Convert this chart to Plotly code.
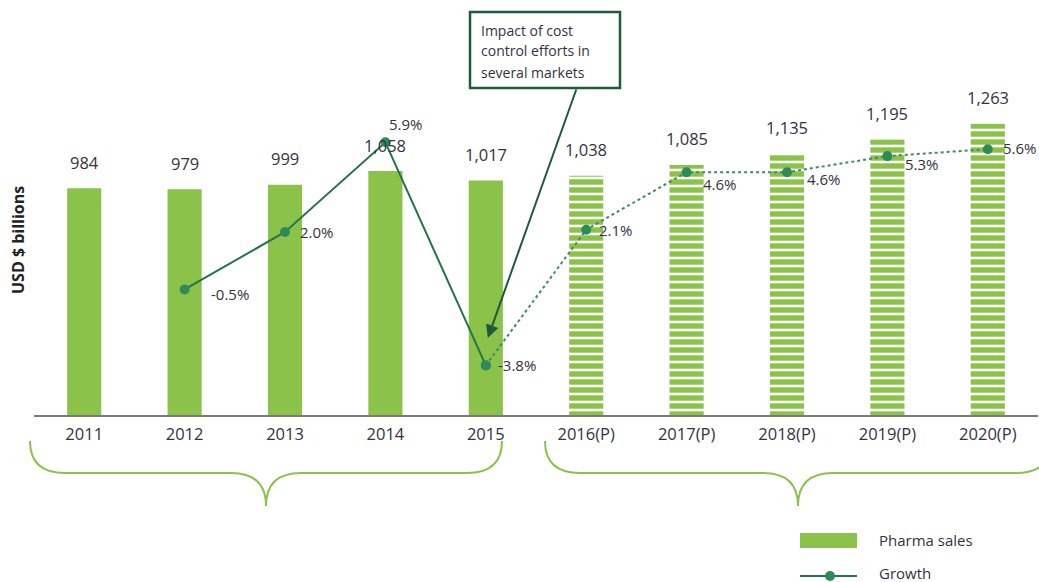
import plotly.graph_objects as go

# ---------------- data ----------------
years = ["2011", "2012", "2013", "2014", "2015",
         "2016(P)", "2017(P)", "2018(P)", "2019(P)", "2020(P)"]
sales = [984, 979, 999, 1058, 1017, 1038, 1085, 1135, 1195, 1263]
growth = [None, -0.5, 2.0, 5.9, -3.8, 2.1, 4.6, 4.6, 5.3, 5.6]
n_actual = 5  # 2011-2015 actual, the rest projected
callout_lines = ["Impact of cost", "control efforts in", "several markets"]

# ---------------- style ----------------
GREEN = "#8BC34A"
DARK = "#23744A"
MARK = "#2E8B57"
TXT = "#333340"
FONT = "Open Sans"

# label offsets (pixels) for growth labels
GL_OFF = {"2012": (24, -5), "2013": (13, 0), "2014": (2, 18), "2015": (10, 0),
          "2016(P)": (11, 0), "2017(P)": (14, -12), "2018(P)": (18, -7),
          "2019(P)": (16, -8), "2020(P)": (13, 1)}

# plot area in pixels
L, T, W, H = 34, 10, 1004, 405
def px(x):
    return (x - L) / W
def py(y):
    return (T + H - y) / H

fig = go.Figure()

fig.add_trace(go.Bar(
    x=years[:n_actual], y=sales[:n_actual], name="Pharma sales",
    marker=dict(color=GREEN, line=dict(width=0)), width=0.34, showlegend=False))
fig.add_trace(go.Bar(
    x=years[n_actual:], y=sales[n_actual:], name="Pharma sales (P)",
    marker=dict(color="white", line=dict(width=0),
                pattern=dict(shape="-", fgcolor=GREEN, bgcolor="white", fgopacity=1,
                             size=8, solidity=0.68, fillmode="replace")),
    width=0.34, showlegend=False))

fig.add_trace(go.Scatter(
    x=years[1:n_actual], y=growth[1:n_actual], yaxis="y2", mode="lines+markers",
    line=dict(color=DARK, width=2), marker=dict(color=MARK, size=10),
    name="Growth", showlegend=False))
fig.add_trace(go.Scatter(
    x=years[n_actual - 1:], y=growth[n_actual - 1:], yaxis="y2", mode="lines+markers",
    line=dict(color="#3D8C63", width=2, dash="dot"), marker=dict(color=MARK, size=10),
    name="Growth (P)", showlegend=False))

ann = []
# bar value labels (x given as category index)
for i, v in enumerate(sales):
    ann.append(dict(x=i, y=v, xref="x", yref="y", text=f"{v:,}", showarrow=False,
                    yanchor="middle", yshift=26, font=dict(size=16.5, color=TXT, family=FONT)))
# growth labels
for i, (yr, g) in enumerate(zip(years, growth)):
    if g is None:
        continue
    dx, dy = GL_OFF.get(yr, (12, 0))
    ann.append(dict(x=i, y=g, xref="x", yref="y2", text=f"{g:.1f}%", showarrow=False,
                    xanchor="left", yanchor="middle", xshift=dx, yshift=dy,
                    font=dict(size=15, color=TXT, family=FONT)))

# y-axis title
ann.append(dict(x=px(18), y=py(240), xref="paper", yref="paper", text="<b>USD $ billions</b>",
                textangle=-90, showarrow=False, xanchor="center", yanchor="middle",
                font=dict(size=16, color="#222", family=FONT)))

# callout box text
for k, line in enumerate(callout_lines):
    ann.append(dict(x=px(479), y=py(30 + 21 * k), xref="paper", yref="paper",
                    text=line, showarrow=False, xanchor="left", yanchor="middle",
                    font=dict(size=14, color=TXT, family=FONT)))
# callout arrow (points at 2015, index 4)
ann.append(dict(x=n_actual - 1, y=-2.61, xref="x", yref="y2", text="", showarrow=True,
                ax=89, ay=-250, axref="pixel", ayref="pixel",
                arrowhead=2, arrowsize=1.3, arrowwidth=2, arrowcolor="#1E5B3A", xshift=2))

# legend (manual)
ann.append(dict(x=px(877), y=py(540), xref="paper", yref="paper", text="Pharma sales",
                showarrow=False, xanchor="left", yanchor="middle",
                font=dict(size=15, color=TXT, family=FONT)))
ann.append(dict(x=px(877), y=py(573), xref="paper", yref="paper", text="Growth",
                showarrow=False, xanchor="left", yanchor="middle",
                font=dict(size=15, color=TXT, family=FONT)))

shapes = []
shapes.append(dict(type="rect", xref="paper", yref="paper",
                   x0=px(470), x1=px(620), y0=py(88), y1=py(12),
                   line=dict(color="#1E5B3A", width=2.5), fillcolor="white", layer="below"))
shapes.append(dict(type="rect", xref="paper", yref="paper",
                   x0=px(800), x1=px(857), y0=py(548), y1=py(533),
                   line=dict(width=0), fillcolor=GREEN))
shapes.append(dict(type="line", xref="paper", yref="paper",
                   x0=px(800), x1=px(857), y0=py(576), y1=py(576),
                   line=dict(color=DARK, width=2)))
shapes.append(dict(type="circle", xref="paper", yref="paper",
                   x0=px(825), x1=px(835), y0=py(581), y1=py(571),
                   line=dict(width=0), fillcolor=MARK))

def brace(x0, x1, top=441, mid=473, tip=506, r=35):
    xc = (x0 + x1) / 2
    pts = [
        f"M{px(x0)},{py(top)}",
        f"Q{px(x0)},{py(mid)} {px(x0 + r)},{py(mid)}",
        f"L{px(xc - r)},{py(mid)}",
        f"Q{px(xc)},{py(mid)} {px(xc)},{py(tip)}",
        f"Q{px(xc)},{py(mid)} {px(xc + r)},{py(mid)}",
        f"L{px(x1 - r)},{py(mid)}",
        f"Q{px(x1)},{py(mid)} {px(x1)},{py(top)}",
    ]
    return dict(type="path", xref="paper", yref="paper", path=" ".join(pts),
                line=dict(color=GREEN, width=2))

shapes.append(brace(30, 502))
shapes.append(brace(545, 1051))

fig.update_layout(
    width=1039, height=582,
    margin=dict(l=L, r=1039 - L - W, t=T, b=582 - T - H),
    paper_bgcolor="white", plot_bgcolor="white",
    bargap=0.66,
    xaxis=dict(type="category", categoryorder="array", categoryarray=years,
               range=[-0.5, len(years) - 0.5],
               showline=True, linecolor="#7A7A7A", linewidth=1.5,
               ticks="", showgrid=False, ticklabelstandoff=3,
               tickfont=dict(size=16.5, color=TXT, family=FONT)),
    yaxis=dict(range=[0, 1757], visible=False, showgrid=False),
    yaxis2=dict(range=[-5.957, 11.652], overlaying="y", visible=False, showgrid=False),
    annotations=ann, shapes=shapes, showlegend=False,
    font=dict(family=FONT),
)

fig.write_html("out.html", config={"displayModeBar": False},
               post_script="document.body.style.margin='0';document.body.style.overflow='hidden';")
